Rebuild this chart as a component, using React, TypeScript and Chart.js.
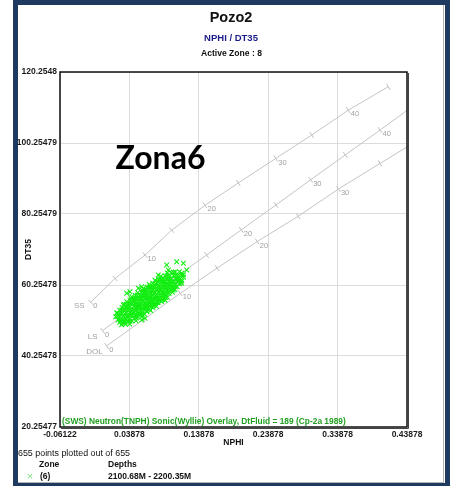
import React, { useEffect, useRef } from "react";
import { Chart, registerables } from "chart.js";

Chart.register(...registerables);

// ---------- axis ticks ----------
const xTickValues = [-0.06122, 0.03878, 0.13878, 0.23878, 0.33878, 0.43878];
const xTickLabels = ["-0.06122", "0.03878", "0.13878", "0.23878", "0.33878", "0.43878"];
const yTickValues = [20.25477, 40.25478, 60.25478, 80.25479, 100.25479, 120.2548];
const yTickLabels = ["20.25477", "40.25478", "60.25478", "80.25479", "100.25479", "120.2548"];

// ---------- Neutron / Sonic (Wyllie) overlay lines ----------
const porosity = [0, 5, 10, 15, 20, 25, 30, 35, 40, 45];
const ssNphi = [-0.017, 0.018, 0.0613, 0.0997, 0.1477, 0.1957, 0.2496, 0.3015, 0.3542, 0.4118];
const ssDt = [55.4, 62.1, 68.7, 75.7, 82.7, 89.0, 95.9, 102.5, 109.5, 116.1];
const lsNphi = [0.0, 0.05, 0.1, 0.15, 0.2, 0.25, 0.3, 0.35, 0.4, 0.45];
const lsDt = [47.4, 54.5, 61.7, 68.7, 75.8, 82.8, 89.9, 96.9, 103.9, 111.0];
const dolNphi = [0.006, 0.059, 0.112, 0.165, 0.223, 0.282, 0.34, 0.4, 0.46, 0.52];
const dolDt = [43.1, 50.5, 57.9, 65.0, 72.5, 79.6, 87.3, 94.5, 101.7, 109.0];
const lithoNames = ["SS", "LS", "DOL"];

// ---------- Zone (6) crossplot points: [NPHI, DT35] ----------
const zone6Points: [number, number][] = [
  [0.0190, 51.31], [0.0224, 50.40], [0.0249, 49.72], [0.0275, 49.03],
  [0.0214, 52.35], [0.0248, 51.44], [0.0273, 50.75], [0.0307, 49.84], [0.0332, 49.16],
  [0.0248, 53.16], [0.0282, 52.24], [0.0307, 51.56], [0.0341, 50.65], [0.0366, 49.96], [0.0391, 49.28],
  [0.0282, 53.95], [0.0307, 53.27], [0.0341, 52.36], [0.0366, 51.67], [0.0400, 50.76], [0.0425, 50.08],
  [0.0315, 54.76], [0.0340, 54.08], [0.0374, 53.17], [0.0399, 52.48], [0.0425, 51.80], [0.0458, 50.89], [0.0484, 50.20],
  [0.0349, 55.57], [0.0374, 54.89], [0.0399, 54.20], [0.0433, 53.29], [0.0458, 52.61], [0.0484, 51.92], [0.0509, 51.24],
  [0.0398, 55.92], [0.0432, 55.01], [0.0457, 54.33], [0.0482, 53.64], [0.0516, 52.73], [0.0541, 52.05], [0.0567, 51.36],
  [0.0423, 56.95], [0.0449, 56.26], [0.0482, 55.35], [0.0508, 54.67], [0.0533, 53.98], [0.0567, 53.07], [0.0600, 52.16],
  [0.0474, 57.30], [0.0507, 56.39], [0.0533, 55.70], [0.0558, 55.02], [0.0592, 54.11], [0.0617, 53.42], [0.0642, 52.74],
  [0.0507, 58.11], [0.0541, 57.20], [0.0566, 56.51], [0.0592, 55.83], [0.0617, 55.14], [0.0642, 54.46], [0.0676, 53.55], [0.0693, 53.09],
  [0.0565, 58.23], [0.0590, 57.55], [0.0624, 56.64], [0.0649, 55.95], [0.0666, 55.50], [0.0692, 54.81], [0.0725, 53.90],
  [0.0590, 59.26], [0.0616, 58.57], [0.0641, 57.89], [0.0675, 56.98], [0.0700, 56.29], [0.0725, 55.61], [0.0750, 54.93], [0.0776, 54.24],
  [0.0641, 59.61], [0.0666, 58.93], [0.0700, 58.01], [0.0725, 57.33], [0.0759, 56.42], [0.0784, 55.73], [0.0801, 55.28],
  [0.0674, 60.42], [0.0700, 59.73], [0.0733, 58.82], [0.0759, 58.14], [0.0792, 57.23], [0.0818, 56.54], [0.0851, 55.63],
  [0.0725, 60.77], [0.0758, 59.86], [0.0792, 58.95], [0.0817, 58.26], [0.0851, 57.35], [0.0876, 56.67], [0.0902, 55.98],
  [0.0757, 61.57], [0.0791, 60.66], [0.0816, 59.97], [0.0850, 59.06], [0.0875, 58.38], [0.0909, 57.46], [0.0934, 56.78],
  [0.0808, 61.92], [0.0841, 61.01], [0.0867, 60.32], [0.0900, 59.41], [0.0926, 58.73], [0.0959, 57.82],
  [0.0841, 62.73], [0.0867, 62.04], [0.0900, 61.13], [0.0926, 60.45], [0.0951, 59.76], [0.0985, 58.85], [0.1010, 58.17],
  [0.0900, 62.85], [0.0934, 61.94], [0.0959, 61.26], [0.0993, 60.34], [0.1018, 59.66], [0.1043, 58.98],
  [0.0934, 63.65], [0.0967, 62.74], [0.0993, 62.05], [0.1018, 61.37], [0.1052, 60.46], [0.1077, 59.77],
  [0.0992, 63.77], [0.1025, 62.86], [0.1059, 61.95], [0.1084, 61.27], [0.1110, 60.58],
  [0.1050, 63.90], [0.1084, 62.99], [0.1118, 62.07], [0.1143, 61.39],
  [0.1109, 64.02], [0.1143, 63.11], [0.1168, 62.43],
  [0.0403, 54.95], [0.0471, 53.12], [0.0513, 51.98],
  [0.0478, 56.33], [0.0537, 54.73], [0.0579, 53.59],
  [0.0579, 57.03], [0.0604, 56.35], [0.0655, 54.98], [0.0680, 54.29],
  [0.0628, 59.09], [0.0679, 57.72], [0.0729, 56.36], [0.0771, 55.22],
  [0.0729, 59.80], [0.0771, 58.66], [0.0822, 57.29], [0.0864, 56.15],
  [0.0804, 61.17], [0.0863, 59.58], [0.0913, 58.21],
  [0.0904, 61.88], [0.0955, 60.51], [0.0989, 59.60],
  [0.0336, 53.33], [0.0395, 51.74],
  [0.0252, 52.18], [0.0311, 50.59],
  [0.0220, 51.37], [0.0262, 50.23], [0.0287, 49.55],
  [0.0277, 53.21], [0.0320, 52.07], [0.0353, 51.16], [0.0395, 50.02],
  [0.0345, 54.82], [0.0378, 53.91], [0.0412, 53.00], [0.0437, 52.32], [0.0463, 51.63], [0.0488, 50.95],
  [0.0412, 56.43], [0.0437, 55.75], [0.0471, 54.83], [0.0496, 54.15], [0.0521, 53.47], [0.0547, 52.78], [0.0572, 52.10],
  [0.0503, 57.36], [0.0537, 56.45], [0.0571, 55.54], [0.0596, 54.85], [0.0621, 54.17], [0.0646, 53.49],
  [0.0578, 58.74], [0.0603, 58.06], [0.0628, 57.37], [0.0662, 56.46], [0.0696, 55.55], [0.0721, 54.86], [0.0738, 54.41],
  [0.0670, 59.67], [0.0704, 58.76], [0.0738, 57.85], [0.0763, 57.16], [0.0788, 56.48], [0.0813, 55.80],
  [0.0763, 60.59], [0.0796, 59.68], [0.0830, 58.77], [0.0855, 58.09], [0.0881, 57.40], [0.0906, 56.72],
  [0.0837, 61.98], [0.0871, 61.07], [0.0896, 60.39], [0.0930, 59.47], [0.0964, 58.56],
  [0.0930, 62.90], [0.0963, 61.99], [0.0997, 61.08], [0.1022, 60.40], [0.1048, 59.71],
  [0.1022, 63.84], [0.1056, 62.92], [0.1089, 62.01], [0.1115, 61.33],
  [0.0925, 65.89], [0.1069, 66.82], [0.1165, 66.37], [0.1213, 64.48], [0.1141, 63.55],
  [0.1020, 58.85], [0.0565, 50.40], [0.0613, 50.87], [0.0349, 57.92], [0.0300, 54.62],
  [0.0949, 64.48], [0.0804, 63.07], [0.1165, 63.07], [0.1141, 60.73], [0.1069, 61.86],
  [0.0396, 58.37], [0.0565, 59.78], [0.0516, 59.32], [0.0205, 52.40], [0.0325, 49.80],
];

const FONT = "'Liberation Sans', Arial, sans-serif";

const lithoLines = [
  { nphi: ssNphi, dt: ssDt },
  { nphi: lsNphi, dt: lsDt },
  { nphi: dolNphi, dt: dolDt },
];

const overlayMarks = {
  id: "overlayMarks",
  beforeDatasetsDraw(chart: any) {
    const { ctx, chartArea: a, scales } = chart;
    const sx = scales.x;
    const sy = scales.y;
    const nameOffsets = [[-6, 4], [-5, 6], [-4, 6]];
    ctx.save();
    ctx.beginPath();
    ctx.rect(a.left, a.top, a.right - a.left, a.bottom - a.top);
    ctx.clip();
    ctx.strokeStyle = "#bdbdbd";
    ctx.lineWidth = 1;
    ctx.fillStyle = "#a0a0a0";
    ctx.textBaseline = "middle";
    lithoLines.forEach((l, k) => {
      const pts = l.nphi.map((v, i) => ({ x: sx.getPixelForValue(v), y: sy.getPixelForValue(l.dt[i]) }));
      ctx.font = "7.5px " + FONT;
      ctx.textAlign = "left";
      pts.forEach((p, i) => {
        if (p.x > a.right + 1 || p.x < a.left - 1) return;
        const pa = pts[Math.max(i - 1, 0)];
        const pb = pts[Math.min(i + 1, pts.length - 1)];
        const dx = pb.x - pa.x;
        const dy = pb.y - pa.y;
        const len = Math.hypot(dx, dy) || 1;
        const nx = -dy / len;
        const ny = dx / len;
        ctx.beginPath();
        ctx.moveTo(p.x - nx * 3.5, p.y - ny * 3.5);
        ctx.lineTo(p.x + nx * 3.5, p.y + ny * 3.5);
        ctx.stroke();
        if (porosity[i] % 10 === 0) {
          ctx.fillText(String(porosity[i]), p.x + 2.5, p.y + 4);
        }
      });
      ctx.font = "8px " + FONT;
      ctx.textAlign = "right";
      const o = nameOffsets[k];
      ctx.fillText(lithoNames[k], pts[0].x + o[0], pts[0].y + o[1]);
    });
    ctx.restore();
  },
};

const plotFrame = {
  id: "plotFrame",
  afterDraw(chart: any) {
    const { ctx, chartArea: a } = chart;
    ctx.save();
    ctx.strokeStyle = "#111";
    ctx.lineWidth = 1.5;
    ctx.strokeRect(a.left, a.top, a.right - a.left, a.bottom - a.top);
    ctx.strokeStyle = "#444";
    ctx.lineWidth = 1;
    ctx.beginPath();
    ctx.moveTo(a.right + 1.5, a.top + 1);
    ctx.lineTo(a.right + 1.5, a.bottom + 1.5);
    ctx.lineTo(a.left + 1, a.bottom + 1.5);
    ctx.stroke();
    ctx.restore();
  },
};

function Txt(props: any) {
  const { x, y, center, style, children } = props;
  return (
    <div
      style={{
        position: "absolute",
        left: x,
        top: y,
        transform: center ? "translate(-50%, -50%)" : "translateY(-50%)",
        whiteSpace: "nowrap",
        lineHeight: 1,
        fontFamily: FONT,
        color: "#111",
        ...style,
      }}
    >
      {children}
    </div>
  );
}

export default function App() {
  const canvasRef = useRef<HTMLCanvasElement | null>(null);

  useEffect(() => {
    if (!canvasRef.current) return;
    const tickFont = { family: FONT, size: 8.5, weight: "bold" as const };
    const lineStyle = {
      showLine: true,
      pointRadius: 0,
      borderColor: "#c4c4c4",
      borderWidth: 1,
      fill: false,
      order: 1,
    };
    const chart = new Chart(canvasRef.current, {
      type: "scatter",
      data: {
        datasets: [
          {
            label: "(6)",
            data: zone6Points.map(([x, y]) => ({ x, y })),
            pointStyle: "crossRot",
            pointRadius: 3.3,
            borderColor: "#10ee10",
            backgroundColor: "#10ee10",
            borderWidth: 1.1,
            order: 0,
          } as any,
          { label: "SS", data: ssNphi.map((x, i) => ({ x, y: ssDt[i] })), ...lineStyle } as any,
          { label: "LS", data: lsNphi.map((x, i) => ({ x, y: lsDt[i] })), ...lineStyle } as any,
          { label: "DOL", data: dolNphi.map((x, i) => ({ x, y: dolDt[i] })), ...lineStyle } as any,
        ],
      },
      options: {
        responsive: false,
        animation: false,
        devicePixelRatio: 1,
        layout: { padding: { left: 0, right: 43, top: 72, bottom: 29 } },
        plugins: {
          legend: { display: false },
          tooltip: { enabled: false },
          title: { display: false },
        },
        scales: {
          x: {
            type: "linear",
            min: -0.06122,
            max: 0.43878,
            afterBuildTicks: (s: any) => {
              s.ticks = xTickValues.map((v) => ({ value: v }));
            },
            afterFit: (s: any) => {
              s.height = 30;
            },
            grid: { color: "#dcdcdc", lineWidth: 1, drawTicks: false },
            border: { display: false },
            ticks: {
              padding: 3,
              color: "#1a1a1a",
              font: tickFont,
              maxRotation: 0,
              autoSkip: false,
              callback: (_v: any, i: number) => xTickLabels[i],
            },
            title: {
              display: true,
              text: "NPHI",
              color: "#111",
              font: { family: FONT, size: 8.5, weight: "bold" },
              padding: { top: 0, bottom: 9 },
            },
          },
          y: {
            type: "linear",
            min: 20.25477,
            max: 120.2548,
            afterBuildTicks: (s: any) => {
              s.ticks = yTickValues.map((v) => ({ value: v }));
            },
            afterFit: (s: any) => {
              s.width = 60;
            },
            grid: { color: "#dcdcdc", lineWidth: 1, drawTicks: false },
            border: { display: false },
            ticks: {
              padding: 3,
              color: "#1a1a1a",
              font: tickFont,
              autoSkip: false,
              callback: (_v: any, i: number) => yTickLabels[i],
            },
            title: {
              display: true,
              text: "DT35",
              color: "#111",
              font: { family: FONT, size: 8.5, weight: "bold" },
              padding: { top: 24, bottom: 0 },
            },
          },
        },
      } as any,
      plugins: [overlayMarks, plotFrame],
    });
    return () => chart.destroy();
  }, []);

  return (
    <div
      style={{
        position: "absolute",
        left: 0,
        top: 0,
        width: 450,
        height: 486,
        background: "#fff",
        overflow: "hidden",
      }}
    >
      <div
        style={{
          position: "absolute",
          left: 13,
          top: 0,
          width: 437,
          height: 486,
          boxSizing: "border-box",
          borderStyle: "solid",
          borderColor: "#1f3a60",
          borderWidth: "5px 5px 3px 5px",
        }}
      />
      <div
        style={{
          position: "absolute",
          left: 18,
          top: 5,
          width: 426,
          height: 478,
          boxSizing: "border-box",
          borderRight: "1px solid #b4b4b4",
          borderBottom: "1px solid #b4b4b4",
        }}
      />
      <canvas
        ref={canvasRef}
        width={450}
        height={486}
        style={{ position: "absolute", left: 0, top: 0, width: 450, height: 486 }}
      />
      <Txt x={231} y={17} center style={{ fontSize: 14.5, fontWeight: "bold" }}>Pozo2</Txt>
      <Txt x={231} y={38} center style={{ fontSize: 9.5, fontWeight: "bold", color: "#1c1c8c" }}>NPHI / DT35</Txt>
      <Txt x={231.5} y={52.5} center style={{ fontSize: 8.6, fontWeight: "bold" }}>Active Zone : 8</Txt>
      <Txt x={160.5} y={157} center style={{ fontSize: 32, fontWeight: 700, fontFamily: "Lato, 'Open Sans', sans-serif", color: "#000" }}>Zona6</Txt>
      <Txt x={62} y={420.5} style={{ fontSize: 8.4, fontWeight: "bold", color: "#22a022" }}>
        (SWS) Neutron(TNPH) Sonic(Wyllie) Overlay, DtFluid = 189 (Cp-2a 1989)
      </Txt>
      <Txt x={18} y={453} style={{ fontSize: 8.9 }}>655 points plotted out of 655</Txt>
      <Txt x={39} y={464} style={{ fontSize: 8.5, fontWeight: "bold" }}>Zone</Txt>
      <Txt x={108} y={464} style={{ fontSize: 8.5, fontWeight: "bold" }}>Depths</Txt>
      <Txt x={30} y={476} center style={{ fontSize: 11, color: "#80e080" }}>×</Txt>
      <Txt x={40} y={476} style={{ fontSize: 8.5, fontWeight: "bold" }}>(6)</Txt>
      <Txt x={108} y={476} style={{ fontSize: 8.5, fontWeight: "bold" }}>2100.68M - 2200.35M</Txt>
    </div>
  );
}
